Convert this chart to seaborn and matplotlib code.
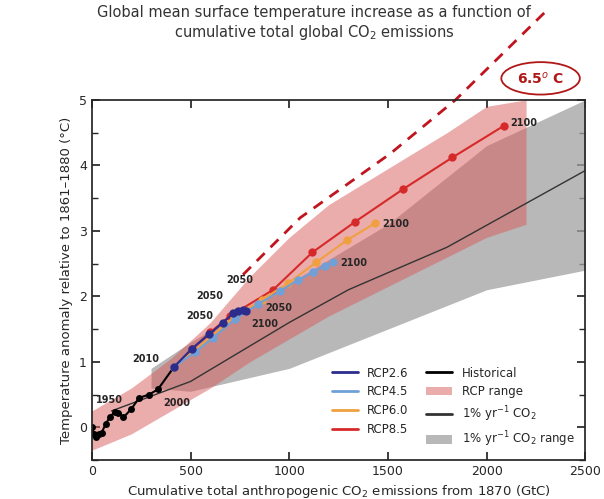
import numpy as np
import pandas as pd
import seaborn as sns
import matplotlib.pyplot as plt
import matplotlib.lines as mlines
from matplotlib.patches import Ellipse

sns.set_theme(style="ticks")
plt.rcParams['font.family'] = ['DejaVu Sans']

hist_x = [0, 10, 20, 35, 50, 70, 90, 117, 135, 160, 200, 240, 290, 335, 416]
hist_y = [0, -0.1, -0.15, -0.1, -0.08, 0.05, 0.15, 0.24, 0.22, 0.15, 0.28, 0.45, 0.5, 0.58, 0.92]
rcp26_x = [416, 507, 594, 665, 716, 740, 766, 780]
rcp26_y = [0.92, 1.2, 1.42, 1.6, 1.74, 1.77, 1.79, 1.78]
rcp45_x = [416, 523, 615, 726, 843, 954, 1046, 1122, 1183, 1223]
rcp45_y = [0.92, 1.15, 1.37, 1.65, 1.88, 2.08, 2.25, 2.37, 2.47, 2.52]
rcp60_x = [416, 520, 610, 720, 863, 995, 1137, 1294, 1437]
rcp60_y = [0.92, 1.17, 1.4, 1.68, 1.95, 2.2, 2.52, 2.86, 3.12]
rcp85_x = [416, 510, 600, 700, 919, 1117, 1335, 1579, 1827, 2086]
rcp85_y = [0.92, 1.2, 1.45, 1.7, 2.1, 2.67, 3.14, 3.64, 4.12, 4.6]
dash_x = [766, 1056, 1513, 1843, 2300]
dash_y = [2.33, 3.2, 4.18, 5.0, 6.35]
rcp_rng_x = [0, 200, 400, 600, 800, 1000, 1200, 1500, 1800, 2000, 2200]
rcp_rng_lo = [-0.35, -0.1, 0.25, 0.6, 1.0, 1.35, 1.7, 2.15, 2.6, 2.9, 3.1]
rcp_rng_hi = [0.25, 0.6, 1.05, 1.6, 2.3, 2.9, 3.4, 3.95, 4.5, 4.9, 5.0]
pct_x = [100, 500, 1000, 1300, 1800, 2500]
pct_y = [0.25, 0.7, 1.6, 2.1, 2.75, 3.92]
pct_rng_x = [300, 500, 1000, 1500, 2000, 2500]
pct_rng_lo = [0.6, 0.55, 0.9, 1.5, 2.1, 2.4]
pct_rng_hi = [0.9, 1.3, 2.2, 3.1, 4.3, 5.0]
labels = [("1950", 117, 0.24, -14, 6), ("2000", 335, 0.58, 4, -12), ("2010", 416, 0.92, -30, 4),
          ("2050", 716, 1.74, -34, -4), ("2050", 740, 1.77, -30, 9), ("2100", 780, 1.78, 4, -12),
          ("2050", 843, 1.88, 5, -5), ("2050", 919, 2.1, -34, 5), ("2100", 1223, 2.52, 5, -3),
          ("2100", 1437, 3.12, 5, -3), ("2100", 2086, 4.6, 5, 0)]

fig = plt.figure(figsize=(6.04, 4.99), dpi=100)
ax = fig.add_axes([0.152, 0.078, 0.817, 0.722])
ax.fill_between(pct_rng_x, pct_rng_lo, pct_rng_hi, color="#a0a0a0", alpha=0.75, lw=0, label="1% yr$^{-1}$ CO$_2$ range")
ax.fill_between(rcp_rng_x, rcp_rng_lo, rcp_rng_hi, color="#d85a5a", alpha=0.5, lw=0, label="RCP range")
sns.lineplot(x=pct_x, y=pct_y, color="#333333", lw=1, ax=ax, label="1% yr$^{-1}$ CO$_2$")
sns.lineplot(x=hist_x, y=hist_y, color="black", lw=1.5, marker="o", ms=5, mec="none", ax=ax, label="Historical")
for xs, ys, c, n in [(rcp85_x, rcp85_y, "#d62a2a", "RCP8.5"), (rcp60_x, rcp60_y, "#f0a040", "RCP6.0"),
                     (rcp45_x, rcp45_y, "#6fa0d8", "RCP4.5"), (rcp26_x, rcp26_y, "#2c2c8c", "RCP2.6")]:
    sns.lineplot(x=xs, y=ys, color=c, lw=1.5, marker="o", ms=6, mec="none", ax=ax, label=n, sort=False)
ax.plot(dash_x, dash_y, color="#c0141e", lw=2, ls=(0, (4, 3)), clip_on=False)
for t, x, y, dx, dy in labels:
    ax.annotate(t, (x, y), xytext=(dx, dy), textcoords="offset points", fontsize=7, fontweight="bold")
ax.set_xlim(0, 2500)
ax.set_ylim(-0.5, 5)
ax.set_xticks([0, 500, 1000, 1500, 2000, 2500])
ax.set_yticks([0, 1, 2, 3, 4, 5])
ax.set_yticks(np.arange(-0.5, 5, 0.5), minor=True)
ax.tick_params(direction="in", top=True, right=True, which="both", labelsize=9)
ax.set_xlabel("Cumulative total anthropogenic CO$_2$ emissions from 1870 (GtC)", fontsize=9.5)
ax.set_ylabel("Temperature anomaly relative to 1861\u20131880 (\u00b0C)", fontsize=9.5)
h, l = ax.get_legend_handles_labels()
order = ["RCP2.6", "RCP4.5", "RCP6.0", "RCP8.5", "Historical", "RCP range", "1% yr$^{-1}$ CO$_2$", "1% yr$^{-1}$ CO$_2$ range"]
d = dict(zip(l, h))
hh = []
for k in order:
    o = d[k]
    if isinstance(o, mlines.Line2D):
        o = mlines.Line2D([], [], color=o.get_color(), lw=2)
    hh.append(o)
ax.legend(hh, order, ncol=2, loc="lower right", frameon=False, fontsize=8.5, handlelength=2.2, columnspacing=1.5)
fig.text(0.52, 0.965, "Global mean surface temperature increase as a function of", ha="center", fontsize=10.5, color="#333333")
fig.text(0.52, 0.925, "cumulative total global CO$_2$ emissions", ha="center", fontsize=10.5, color="#333333")
fig.patches.append(Ellipse((0.895, 0.843), 0.13, 0.065, transform=fig.transFigure, fill=False, ec="#b01818", lw=1.3))
fig.text(0.895, 0.843, "6.5$^o$ C", ha="center", va="center", fontsize=10, color="#b01818", fontweight="bold")
fig.savefig("out.png", dpi=100)
